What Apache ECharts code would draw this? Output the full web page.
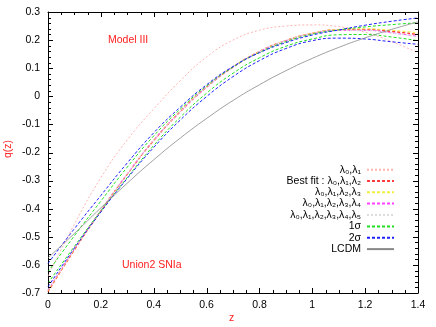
<!DOCTYPE html>
<html>
<head>
<meta charset="utf-8">
<script src="https://cdn.jsdelivr.net/npm/echarts@6/dist/echarts.min.js"></script>
<style>
  html, body { margin: 0; padding: 0; background: #fff; }
  #chart { width: 436px; height: 327px; }
</style>
</head>
<body>
<div id="chart"></div>
<script>
// redshift grid
const zValues = [0, 0.1, 0.2, 0.3, 0.4, 0.5, 0.6, 0.7, 0.8, 0.9, 1.0, 1.1, 1.2, 1.3, 1.4];

// q(z) curves
const qL01 = [-0.64, -0.455, -0.29, -0.155, -0.045, 0.055, 0.14, 0.2, 0.235, 0.25, 0.254, 0.248, 0.228, 0.195, 0.155];
const qBestFit = [-0.695, -0.546, -0.408, -0.277, -0.157, -0.055, 0.033, 0.104, 0.159, 0.198, 0.224, 0.237, 0.238, 0.231, 0.22];
const qL0123 = [-0.693, -0.545, -0.407, -0.276, -0.156, -0.054, 0.034, 0.105, 0.16, 0.199, 0.225, 0.238, 0.24, 0.235, 0.226];
const qL01234 = [-0.69, -0.543, -0.406, -0.276, -0.156, -0.055, 0.033, 0.104, 0.159, 0.198, 0.223, 0.235, 0.235, 0.226, 0.213];
const qL012345 = [-0.688, -0.542, -0.405, -0.276, -0.156, -0.055, 0.033, 0.104, 0.159, 0.198, 0.223, 0.235, 0.234, 0.225, 0.211];
const q1sUp = [-0.625, -0.496, -0.373, -0.252, -0.141, -0.046, 0.037, 0.104, 0.156, 0.194, 0.221, 0.236, 0.247, 0.255, 0.262];
const q1sLow = [-0.665, -0.534, -0.408, -0.289, -0.175, -0.075, 0.011, 0.082, 0.137, 0.178, 0.204, 0.219, 0.22, 0.211, 0.198];
const q2sUp = [-0.595, -0.471, -0.353, -0.237, -0.13, -0.039, 0.041, 0.106, 0.155, 0.191, 0.218, 0.236, 0.253, 0.267, 0.279];
const q2sLow = [-0.678, -0.54, -0.412, -0.292, -0.182, -0.085, -0.001, 0.07, 0.127, 0.17, 0.198, 0.207, 0.204, 0.194, 0.185];
const qLCDM = [-0.575, -0.488, -0.397, -0.309, -0.226, -0.149, -0.079, -0.015, 0.041, 0.091, 0.135, 0.174, 0.208, 0.238, 0.265];

// axis ranges [min, max, major step] and minor divisions per major step
const X = [0, 1.4, 0.2];
const Y = [-0.7, 0.3, 0.1];
const X_MINOR = 4;
const Y_MINOR = 5;

const FONT = "'Liberation Sans', 'DejaVu Sans', sans-serif";

const curves = [
  { name: "λ₀,λ₁", data: qL01, color: "#ffb4b4", type: [2, 2], width: 1 },
  { name: "Best fit : λ₀,λ₁,λ₂", data: qBestFit, color: "#ff3c3c", type: [3, 2], width: 1.4 },
  { name: "λ₀,λ₁,λ₂,λ₃", data: qL0123, color: "#f0f040", type: [3, 2], width: 1 },
  { name: "λ₀,λ₁,λ₂,λ₃,λ₄", data: qL01234, color: "#ff40ff", type: [3, 2], width: 1 },
  { name: "λ₀,λ₁,λ₂,λ₃,λ₄,λ₅", data: qL012345, color: "#dcdcdc", type: [2, 2], width: 1 },
  { name: "1σ", data: q1sUp, color: "#20e020", type: [3, 2], width: 1 },
  { name: "1σ ", data: q1sLow, color: "#20e020", type: [3, 2], width: 1, noLegend: true },
  { name: "2σ", data: q2sUp, color: "#2020ff", type: [3, 2], width: 1 },
  { name: "2σ ", data: q2sLow, color: "#2020ff", type: [3, 2], width: 1, noLegend: true },
  { name: "LCDM", data: qLCDM, color: "#888888", type: "solid", width: 0.8 },
];

const chart = echarts.init(document.getElementById("chart"));

const legendNames = curves.filter((c) => !c.noLegend).map((c) => c.name);
const legendCenters = [170.7, 181.9, 193.2, 204.6, 216, 227.4, 238.8, 250.1];

const fmt = (v) => (Math.abs(v) < 1e-9 ? "0" : String(+v.toFixed(1)));

// tick list: [value, tick length px, 1 = on x edges / 0 = on y edges]
function tickList(range, minor, isX) {
  const out = [];
  const n = Math.round((range[1] - range[0]) / range[2]) * minor;
  for (let i = 1; i < n; i++) {
    const v = +(range[0] + (i * range[2]) / minor).toFixed(4);
    out.push([v, i % minor === 0 ? 5 : 3, isX ? 1 : 0]);
  }
  return out;
}
const ticks = tickList(X, X_MINOR, true).concat(tickList(Y, Y_MINOR, false));

// axis ticks don't render here, so draw them inward on all four edges
function renderTick(params, api) {
  const v = api.value(0), len = api.value(1), onX = api.value(2) === 1;
  const st = { stroke: "#000", lineWidth: 1 };
  if (onX) {
    const b = api.coord([v, Y[0]]), t = api.coord([v, Y[1]]);
    const x = Math.round(b[0]) + 0.5;
    return { type: "group", children: [
      { type: "line", shape: { x1: x, y1: b[1], x2: x, y2: b[1] - len }, style: st },
      { type: "line", shape: { x1: x, y1: t[1], x2: x, y2: t[1] + len }, style: st },
    ] };
  }
  const l = api.coord([X[0], v]), r = api.coord([X[1], v]);
  const y = Math.round(l[1]) + 0.5;
  return { type: "group", children: [
    { type: "line", shape: { x1: l[0], y1: y, x2: l[0] + len, y2: y }, style: st },
    { type: "line", shape: { x1: r[0], y1: y, x2: r[0] - len, y2: y }, style: st },
  ] };
}

function frameAxis(range, pos, labels, margin) {
  return {
    type: "value", position: pos, min: range[0], max: range[1], interval: range[2],
    axisLine: { show: true, onZero: false, lineStyle: { color: "#000" } },
    axisTick: { show: false },
    splitLine: { show: false },
    axisLabel: { show: labels, color: "#000", fontSize: 10.5, fontFamily: FONT, margin: margin, formatter: fmt },
  };
}

chart.setOption({
  animation: false,
  grid: { left: 48, right: 18, top: 12, bottom: 34 },
  xAxis: [frameAxis(X, "bottom", true, 7), frameAxis(X, "top", false, 7)],
  yAxis: [frameAxis(Y, "left", true, 8), frameAxis(Y, "right", false, 8)],
  legend: legendNames.map((n, i) => ({
    data: [n],
    orient: "vertical",
    right: 41,
    top: legendCenters[i] - 6.5,
    align: "right",
    padding: 0,
    itemWidth: 27,
    itemHeight: 8,
    itemGap: 0,
    selectedMode: false,
    itemStyle: { opacity: 0 },
    textStyle: { color: "#000", fontSize: 10.5, fontFamily: FONT, padding: [0, 1, 0, 0] },
  })),
  graphic: [
    { type: "text", left: 108, top: 35, style: { text: "Model III", fill: "#ff2020", font: "10.5px " + FONT } },
    { type: "text", left: 122, top: 260, style: { text: "Union2 SNIa", fill: "#ff2020", font: "10.5px " + FONT } },
    { type: "text", left: 229, top: 313, style: { text: "z", fill: "#ff2020", font: "10.5px " + FONT } },
    { type: "text", left: 3, top: 140, rotation: Math.PI / 2,
      style: { text: "q(z)", fill: "#ff2020", font: "10.5px " + FONT } },
  ],
  series: curves.map((c) => ({
    name: c.name,
    type: "line",
    smooth: 0.5,
    symbol: "none",
    data: zValues.map((z, k) => [z, c.data[k]]),
    lineStyle: { color: c.color, width: c.width, type: c.type },
    itemStyle: { color: c.color },
  })).concat([{
    name: "ticks",
    type: "custom",
    silent: true,
    clip: false,
    z: 10,
    encode: { x: 0, y: 1 },
    renderItem: renderTick,
    data: ticks,
  }]),
});
</script>
</body>
</html>
